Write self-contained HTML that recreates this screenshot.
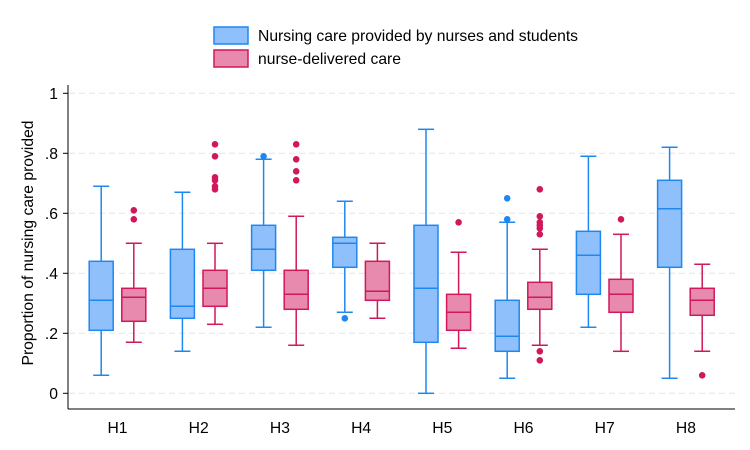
<!DOCTYPE html>
<html><head><meta charset="utf-8"><style>
body{margin:0;background:#fff;}
svg{font-family:"Liberation Sans",Arial,sans-serif;display:block}
</style></head><body>
<svg id="chart" width="750" height="450" viewBox="0 0 750 450">
<rect width="750" height="450" fill="#fff"/>
<g id="legend">
 <rect x="214" y="27" width="34" height="17" fill="#90c0fb" stroke="#1e88f0" stroke-width="1.5"/>
 <text x="258" y="41" font-size="15.7">Nursing care provided by nurses and students</text>
 <rect x="214" y="50" width="34" height="17" fill="#e88aae" stroke="#d0185a" stroke-width="1.5"/>
 <text x="258" y="64" font-size="15.7">nurse-delivered care</text>
</g>
<text transform="translate(33,243) rotate(-90)" text-anchor="middle" font-size="15.7">Proportion of nursing care provided</text>
<g id="grid"></g><g id="axes"></g><g id="marks"></g>
</svg>
<script>
const categories=["H1","H2","H3","H4","H5","H6","H7","H8"];
const yTicks=[0,0.2,0.4,0.6,0.8,1];
const yTickLabels=["0",".2",".4",".6",".8","1"];
// [min whisker, q1, median, q3, max whisker]
const blueStats=[[0.06,0.21,0.31,0.44,0.69],[0.14,0.25,0.29,0.48,0.67],[0.22,0.41,0.48,0.56,0.78],[0.27,0.42,0.50,0.52,0.64],[0.0,0.17,0.35,0.56,0.88],[0.05,0.14,0.19,0.31,0.57],[0.22,0.33,0.46,0.54,0.79],[0.05,0.42,0.615,0.71,0.82]];
const pinkStats=[[0.17,0.24,0.32,0.35,0.50],[0.23,0.29,0.35,0.41,0.50],[0.16,0.28,0.33,0.41,0.59],[0.25,0.31,0.34,0.44,0.50],[0.15,0.21,0.27,0.33,0.47],[0.16,0.28,0.32,0.37,0.48],[0.14,0.27,0.33,0.38,0.53],[0.14,0.26,0.31,0.35,0.43]];
const blueOutliers=[[],[],[0.79],[0.25],[],[0.58,0.65],[],[]];
const pinkOutliers=[[0.58,0.61],[0.68,0.69,0.71,0.72,0.79,0.83],[0.71,0.74,0.78,0.83],[],[0.57],[0.11,0.14,0.53,0.55,0.56,0.57,0.59,0.68],[0.58],[0.06]];
const NS="http://www.w3.org/2000/svg";
const y=v=>393.3-v*300;
const x=i=>117.5+i*81.2;
function mk(tag,attrs,parent){const e=document.createElementNS(NS,tag);for(const k in attrs)e.setAttribute(k,attrs[k]);parent.appendChild(e);return e;}
const grid=document.getElementById('grid'),axes=document.getElementById('axes'),marks=document.getElementById('marks');
yTicks.forEach((t,i)=>{
 const g=mk('line',{x1:69,x2:735,y1:y(t),y2:y(t),stroke:'#e6e6e6','stroke-dasharray':'6,4','stroke-width':1},grid);
 
 
 const tk=mk('line',{x1:63,x2:68,y1:y(t),y2:y(t),stroke:'#000'},axes);
 
 
 const tl=mk('text',{x:58,y:y(t)+5.5,'text-anchor':'end','font-size':15.7},axes);
 tl.textContent=yTickLabels[i];
 
 
});
const ya=mk('line',{x1:68,x2:68,y1:85,y2:409,stroke:'#000'},axes);


const xa=mk('line',{x1:68,x2:735,y1:409,y2:409,stroke:'#000'},axes);


categories.forEach((c,i)=>{
 const tl=mk('text',{x:x(i),y:433,'text-anchor':'middle','font-size':15.7},axes);
 tl.textContent=c;
 
 
});
function box(cx,s,fill,stroke,outs,name){
 const g=mk('g',{},marks);
 
 
 const w=24,cw=16;
 mk('line',{x1:cx,x2:cx,y1:y(s[0]),y2:y(s[1]),stroke:stroke,'stroke-width':1.5},g);
 mk('line',{x1:cx,x2:cx,y1:y(s[3]),y2:y(s[4]),stroke:stroke,'stroke-width':1.5},g);
 mk('line',{x1:cx-cw/2,x2:cx+cw/2,y1:y(s[0]),y2:y(s[0]),stroke:stroke,'stroke-width':1.5},g);
 mk('line',{x1:cx-cw/2,x2:cx+cw/2,y1:y(s[4]),y2:y(s[4]),stroke:stroke,'stroke-width':1.5},g);
 mk('rect',{x:cx-w/2,y:y(s[3]),width:w,height:y(s[1])-y(s[3]),fill:fill,stroke:stroke,'stroke-width':1.5},g);
 mk('line',{x1:cx-w/2,x2:cx+w/2,y1:y(s[2]),y2:y(s[2]),stroke:stroke,'stroke-width':1.5},g);
 outs.forEach(o=>{mk('circle',{cx:cx,cy:y(o),r:3.3,fill:stroke},g);});
}
categories.forEach((c,i)=>{
 box(x(i)-16.3,blueStats[i],'#90c0fb','#1e88f0',blueOutliers[i],'box-nurses-students-'+c);
 box(x(i)+16.3,pinkStats[i],'#e88aae','#d0185a',pinkOutliers[i],'box-nurse-delivered-'+c);
});
</script>
</body></html>
